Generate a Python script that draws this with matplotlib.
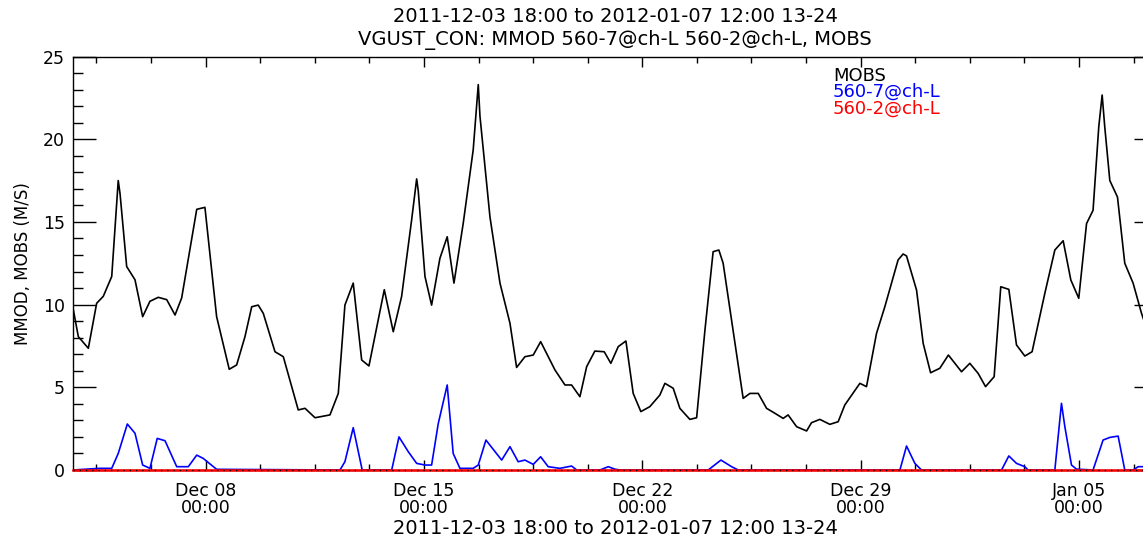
import numpy as np
import matplotlib.pyplot as plt
import matplotlib.dates as mdates
from matplotlib.ticker import MultipleLocator

W, H = 1143, 538

start = np.datetime64('2011-12-03T18:00')
end = np.datetime64('2012-01-07T12:00')

# MOBS (black), hours after start / m/s
mobs_hours = [0, 4.1, 11.8, 18.2, 23.3, 29.8, 34.8, 36.2, 41.3, 47.7, 53.6, 59.2,
              65.6, 72.1, 78.5, 83.6, 95.2, 101.5, 110.5, 120.2, 125.9, 132.3,
              137.5, 142.5, 146.4, 155.4, 161.8, 173.3, 178.5, 186.2, 197.7, 204.1,
              209.2, 215.6, 222.1, 227.7, 239.5, 246.4, 252.8, 260.5, 264.4, 265.6,
              270.8, 275.9, 282.3, 287.9, 293.1, 300.2, 307.9, 311.8, 313.1, 320.8,
              328.5, 336.2, 341.3, 347.7, 354.1, 359.8, 370.8, 378.5, 383.6, 390.0,
              395.2, 401.5, 408.7, 413.8, 419.5, 425.4, 431.0, 436.9, 443.8, 451.5,
              455.4, 461.8, 466.9, 474.6, 479.8, 486.2, 492.5, 496.9, 500.2, 506.7,
              515.6, 520.8, 527.2, 533.6, 540.0, 546.4, 550.2, 556.7, 564.4, 568.2,
              574.6, 582.3, 588.7, 593.8, 605.4, 610.5, 618.2, 624.6, 634.8, 638.7,
              641.3, 649.0, 654.1, 659.8, 666.9, 673.5, 683.6, 690.0, 696.4, 702.1,
              708.7, 713.8, 720.0, 725.9, 732.3, 737.9, 747.7, 755.4, 761.8, 767.7,
              773.8, 779.8, 784.8, 789.2, 791.8, 793.8, 797.7, 803.6, 809.2, 815.6,
              822.1, 828.5, 834.0]
mobs_values = [9.8, 8.06, 7.36, 10.08, 10.5, 11.7, 17.5, 16.7, 12.3, 11.5, 9.27, 10.2,
               10.44, 10.3, 9.37, 10.4, 15.76, 15.88, 9.27, 6.09, 6.35, 8.06,
               9.87, 9.97, 9.47, 7.15, 6.85, 3.63, 3.73, 3.16, 3.33, 4.63,
               9.97, 11.3, 6.65, 6.29, 10.9, 8.36, 10.48, 15.1, 17.6, 16.9,
               11.7, 9.97, 12.8, 14.1, 11.3, 14.9, 19.35, 23.3, 21.4, 15.3,
               11.3, 8.87, 6.2, 6.85, 6.95, 7.76, 6.05, 5.14, 5.14, 4.43,
               6.25, 7.19, 7.15, 6.45, 7.46, 7.8, 4.63, 3.53, 3.83, 4.53,
               5.24, 4.94, 3.73, 3.06, 3.16, 8.46, 13.2, 13.3, 12.5, 9.07,
               4.33, 4.63, 4.63, 3.73, 3.43, 3.12, 3.33, 2.62, 2.36, 2.86,
               3.06, 2.76, 2.92, 3.93, 5.24, 5.04, 8.26, 9.87, 12.7, 13.06,
               12.94, 10.88, 7.66, 5.88, 6.15, 6.95, 5.94, 6.45, 5.84, 5.04,
               5.64, 11.08, 10.92, 7.56, 6.89, 7.15, 10.68, 13.3, 13.86, 11.49,
               10.38, 14.9, 15.7, 20.75, 22.67, 20.75, 17.5, 16.5, 12.5, 11.3,
               9.47, 8.0, 7.2]

# 560-7@ch-L (blue)
m7_hours = [0, 20.2, 29.8, 34.8, 41.8, 47.7, 53.6, 59.2, 64.8, 70.8, 79.8, 88.7,
            95.2, 100.2, 110.5, 205.4, 209.2, 215.6, 222.5, 245.2, 250.8, 258.0,
            264.4, 270.8, 275.9, 281.0, 287.9, 292.5, 297.7, 307.9, 311.8, 317.7,
            329.8, 336.2, 342.5, 347.7, 354.1, 359.8, 365.6, 374.6, 383.6, 387.5,
            405.4, 411.8, 416.9, 420.8, 488.7, 498.5, 506.7, 511.8, 636.2, 641.3,
            647.7, 652.8, 714.4, 720.0, 725.9, 732.3, 734.8, 755.4, 760.5, 763.1,
            768.2, 772.1, 784.8, 792.5, 797.7, 804.1, 809.2, 815.6, 819.5, 834.0]
m7_values = [0.0, 0.1, 0.1, 1.0, 2.78, 2.22, 0.3, 0.1, 1.91, 1.77, 0.2, 0.2,
             0.9, 0.7, 0.04, 0.0, 0.5, 2.56, 0.0, 0.0, 2.0, 1.1,
             0.4, 0.3, 0.3, 2.8, 5.14, 1.0, 0.1, 0.1, 0.3, 1.81,
             0.6, 1.41, 0.5, 0.6, 0.34, 0.8, 0.2, 0.1, 0.24, 0.0,
             0.0, 0.2, 0.05, 0.0, 0.0, 0.6, 0.2, 0.0, 0.0, 1.45,
             0.4, 0.0, 0.0, 0.85, 0.4, 0.2, 0.0, 0.0, 4.03, 2.62,
             0.3, 0.05, 0.0, 1.81, 1.97, 2.05, 0.0, 0.0, 0.2, 0.2]

# 560-2@ch-L (red)
m2_hours = [0, 834.0]
m2_values = [0.0, 0.0]

major_dates = ['2011-12-08', '2011-12-15', '2011-12-22', '2011-12-29', '2012-01-05']
major_labels = ['Dec 08\n00:00', 'Dec 15\n00:00', 'Dec 22\n00:00', 'Dec 29\n00:00', 'Jan 05\n00:00']

title1 = '2011-12-03 18:00 to 2012-01-07 12:00 13-24'
title2 = 'VGUST_CON: MMOD 560-7@ch-L 560-2@ch-L, MOBS'


def to_time(hours):
    return start + (np.array(hours) * 60).round().astype('timedelta64[m]')


plt.rcParams['font.family'] = 'DejaVu Sans'
fig = plt.figure(figsize=(W / 100, H / 100), dpi=100)
# plot box runs past the right edge, like the cropped original
ax = fig.add_axes([73 / W, (H - 470) / H, (1157 - 73) / W, 413.5 / H])

ax.plot(to_time(mobs_hours), mobs_values, color='black', lw=1.2)
ax.plot(to_time(m7_hours), m7_values, color='blue', lw=1.2)
ax.plot(to_time(m2_hours), m2_values, color='red', lw=1.8, clip_on=False, zorder=3)
ax.plot(to_time(m2_hours), m2_values, color='black', lw=0.9, linestyle=(0, (1, 4)),
        clip_on=False, zorder=3.1)

ax.set_xlim(mdates.date2num(start), mdates.date2num(end))
ax.set_ylim(0, 25)

majors = mdates.date2num(np.array(major_dates, dtype='datetime64[m]'))
ax.set_xticks(majors)
ax.set_xticklabels(major_labels)
minors = np.arange(majors[0] - 3.5, mdates.date2num(end) + 0.01, 1.75)
ax.set_xticks(minors, minor=True)
for lab in ax.get_xticklabels():
    lab.set_linespacing(0.9)

ax.yaxis.set_major_locator(MultipleLocator(5))
ax.yaxis.set_minor_locator(MultipleLocator(1))

ax.tick_params(axis='both', which='both', direction='in', top=True, right=True,
               labelsize=12.5, width=1)
ax.tick_params(axis='y', which='major', length=16.5, pad=6)
ax.tick_params(axis='y', which='minor', length=7.5)
ax.tick_params(axis='x', which='major', length=7, pad=9)
ax.tick_params(axis='x', which='minor', length=4)
for s in ax.spines.values():
    s.set_linewidth(1)

ax.set_ylabel('MMOD, MOBS (M/S)', fontsize=12, labelpad=8)

fig.text(615 / W, 1 - 17 / H, title1, ha='center', va='center', fontsize=14)
fig.text(615 / W, 1 - 40 / H, title2, ha='center', va='center', fontsize=14)
fig.text(615 / W, 1 - 528 / H, title1, ha='center', va='center', fontsize=14)

fig.text(833 / W, 1 - 76 / H, 'MOBS', ha='left', va='center', fontsize=13, color='black')
fig.text(833 / W, 1 - 92 / H, '560-7@ch-L', ha='left', va='center', fontsize=13, color='blue')
fig.text(833 / W, 1 - 109 / H, '560-2@ch-L', ha='left', va='center', fontsize=13, color='red')

fig.savefig('out.png', dpi=100)
